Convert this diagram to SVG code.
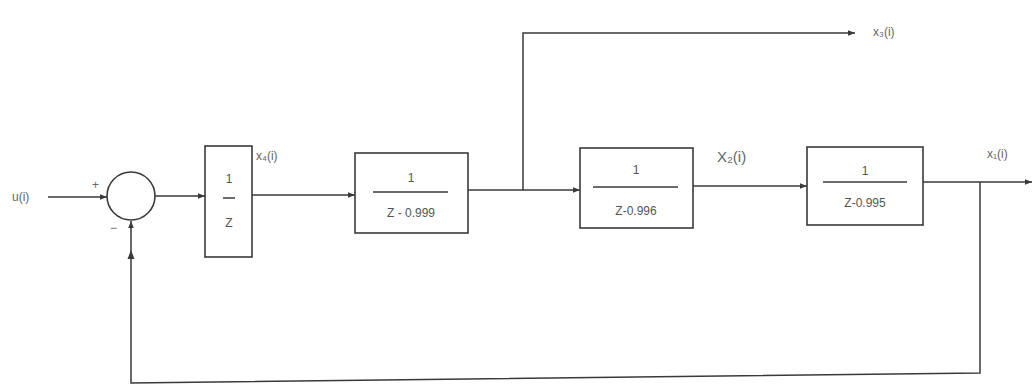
<svg xmlns="http://www.w3.org/2000/svg" width="1035" height="386" viewBox="0 0 1035 386">
<style>
.ln{fill:none;stroke:#3a3a3a;stroke-width:1.5}
.bx{fill:none;stroke:#3a3a3a;stroke-width:1.6}
.t{font-family:"Liberation Sans",Arial,sans-serif;font-size:12px;fill:#555;text-anchor:middle}
.lb{font-family:"Liberation Sans",Arial,sans-serif;font-size:12px;fill:#666}
</style>
<defs>
<marker id="ar" viewBox="0 0 10 10" refX="10" refY="5" markerWidth="9" markerHeight="7" markerUnits="userSpaceOnUse" orient="auto">
<path d="M0,1 L10,5 L0,9 Z" fill="#3a3a3a"/>
</marker>
</defs>
<rect width="1035" height="386" fill="#fff"/>
<g id="connectors">
<line class="ln" x1="48" y1="197" x2="107" y2="197" marker-end="url(#ar)"/>
<line class="ln" x1="155" y1="196" x2="205" y2="196" marker-end="url(#ar)"/>
<line class="ln" x1="252" y1="195" x2="355" y2="195" marker-end="url(#ar)"/>
<line class="ln" x1="468" y1="190" x2="580" y2="190" marker-end="url(#ar)"/>
<polyline class="ln" points="523,190 523,33 855,33" marker-end="url(#ar)"/>
<line class="ln" x1="693" y1="186" x2="807" y2="186" marker-end="url(#ar)"/>
<line class="ln" x1="923" y1="182" x2="1032" y2="182" marker-end="url(#ar)"/>
<polyline class="ln" points="980,182 980,373 131,383 131,221" marker-end="url(#ar)"/>
<path d="M131,250 L127.5,259 L134.5,259 Z" fill="#3a3a3a"/>
</g>
<g id="input">
<text class="lb" x="12" y="201">u(i)</text>
</g>
<g id="sum">
<circle cx="131" cy="196" r="24" class="bx"/>
<text class="lb" x="92" y="189">+</text>
<text class="lb" x="110" y="232">−</text>
</g>
<g id="block1">
<rect class="bx" x="205" y="146" width="47" height="111"/>
<text class="t" x="229" y="183">1</text>
<line class="ln" x1="223" y1="198" x2="235" y2="198"/>
<text class="t" x="229" y="227">Z</text>
<text class="lb" x="256" y="160">x₄(i)</text>
</g>
<g id="block2">
<rect class="bx" x="355" y="153" width="113" height="80"/>
<text class="t" x="411" y="182">1</text>
<line class="ln" x1="373" y1="192" x2="448" y2="192"/>
<text class="t" x="411" y="217">Z - 0.999</text>
</g>
<g id="block3">
<rect class="bx" x="580" y="148" width="113" height="80"/>
<text class="t" x="636" y="174">1</text>
<line class="ln" x1="593" y1="187" x2="678" y2="187"/>
<text class="t" x="636" y="215">Z-0.996</text>
<text class="lb" x="717" y="162" style="font-size:15px">X₂(i)</text>
</g>
<g id="block4">
<rect class="bx" x="807" y="147" width="116" height="78"/>
<text class="t" x="865" y="175">1</text>
<line class="ln" x1="823" y1="182" x2="907" y2="182"/>
<text class="t" x="865" y="207">Z-0.995</text>
<text class="lb" x="987" y="158">x₁(i)</text>
</g>
<g id="top-output">
<text class="lb" x="873" y="36">x₃(i)</text>
</g>
</svg>
